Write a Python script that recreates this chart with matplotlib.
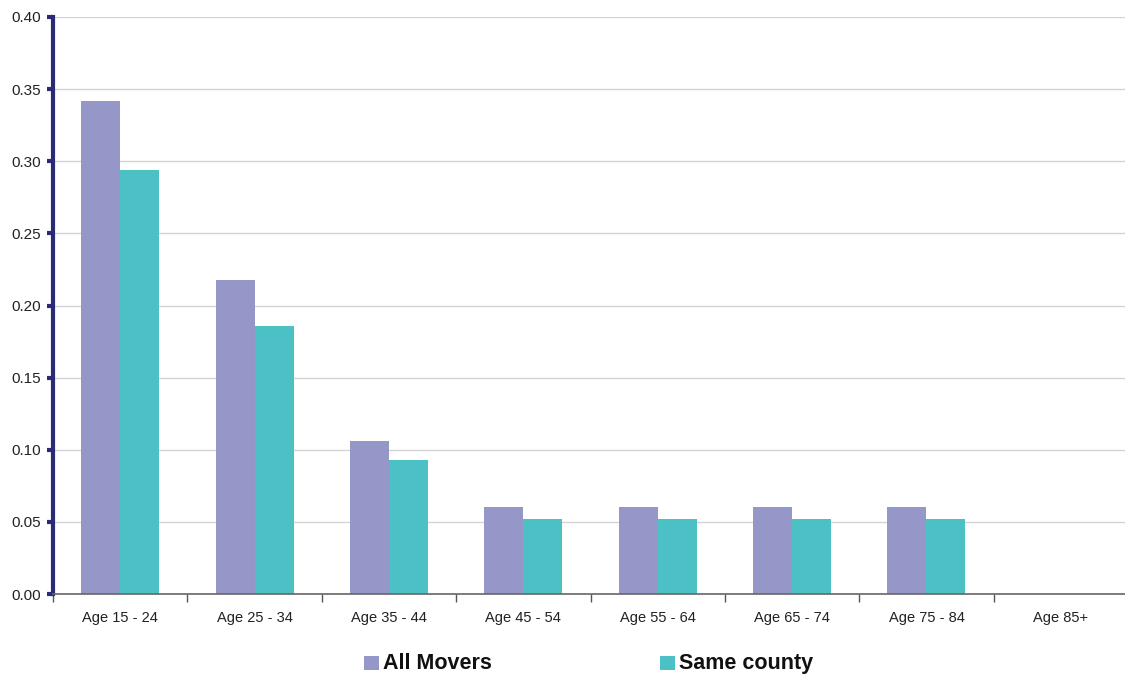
import numpy as np
import matplotlib.pyplot as plt
from matplotlib.patches import Rectangle

plt.rcParams['font.family'] = ['Liberation Sans', 'DejaVu Sans']

age_groups = ['Age 15 - 24', 'Age 25 - 34', 'Age 35 - 44', 'Age 45 - 54',
              'Age 55 - 64', 'Age 65 - 74', 'Age 75 - 84', 'Age 85+']
all_movers = [0.342, 0.218, 0.106, 0.060, 0.060, 0.060, 0.060, 0.0]
same_county = [0.294, 0.186, 0.093, 0.052, 0.052, 0.052, 0.052, 0.0]
y_ticks = [0.00, 0.05, 0.10, 0.15, 0.20, 0.25, 0.30, 0.35, 0.40]

color_all = '#9597c8'
color_same = '#4bc1c6'
navy = '#2b2a74'

W, H = 1125, 677
fig = plt.figure(figsize=(W / 100, H / 100), dpi=100, facecolor='white')
ax = fig.add_axes([53 / W, 83 / H, 1075 / W, 577 / H])

x = np.arange(len(age_groups))
w = 0.29
ax.bar(x - w / 2, all_movers, width=w, color=color_all, zorder=3)
ax.bar(x + w / 2, same_county, width=w, color=color_same, zorder=3)

ax.set_xlim(-0.5, len(age_groups) - 0.5)
ax.set_ylim(0, 0.40)
ax.set_yticks(y_ticks)
ax.set_yticklabels([f'{v:.2f}' for v in y_ticks], fontsize=11, color='#222222')
ax.yaxis.grid(True, color='#d4d4d4', linewidth=1, zorder=0)

# category labels at centres, tick marks at the boundaries
ax.set_xticks(x)
ax.set_xticklabels(age_groups, fontsize=10.5, color='#222222')
ax.tick_params(axis='x', which='major', length=0, pad=12)
ax.set_xticks(np.arange(len(age_groups) + 1) - 0.5, minor=True)
ax.tick_params(axis='x', which='minor', length=6, width=1, color='#555555', direction='out')
ax.tick_params(axis='y', length=4, width=3, color=navy, direction='out', pad=5)

for side in ['top', 'right']:
    ax.spines[side].set_visible(False)
ax.spines['left'].set_color(navy)
ax.spines['left'].set_linewidth(3)
ax.spines['bottom'].set_color('#666666')
ax.spines['bottom'].set_linewidth(1.2)
ax.spines['bottom'].set_zorder(4)

# legend entries laid out by hand so the swatches line up with the caps
legend_items = [('All Movers', color_all, 364), ('Same county', color_same, 660)]
for label, color, px in legend_items:
    fig.add_artist(Rectangle((px / W, 1 - 670 / H), 15 / W, 14 / H,
                             transform=fig.transFigure, facecolor=color, edgecolor='none'))
    fig.text((px + 19) / W, 1 - 669 / H, label, fontsize=15.5, fontweight='bold',
             color='#111111', va='baseline', ha='left')

fig.savefig('out.png', dpi=100, facecolor='white')
